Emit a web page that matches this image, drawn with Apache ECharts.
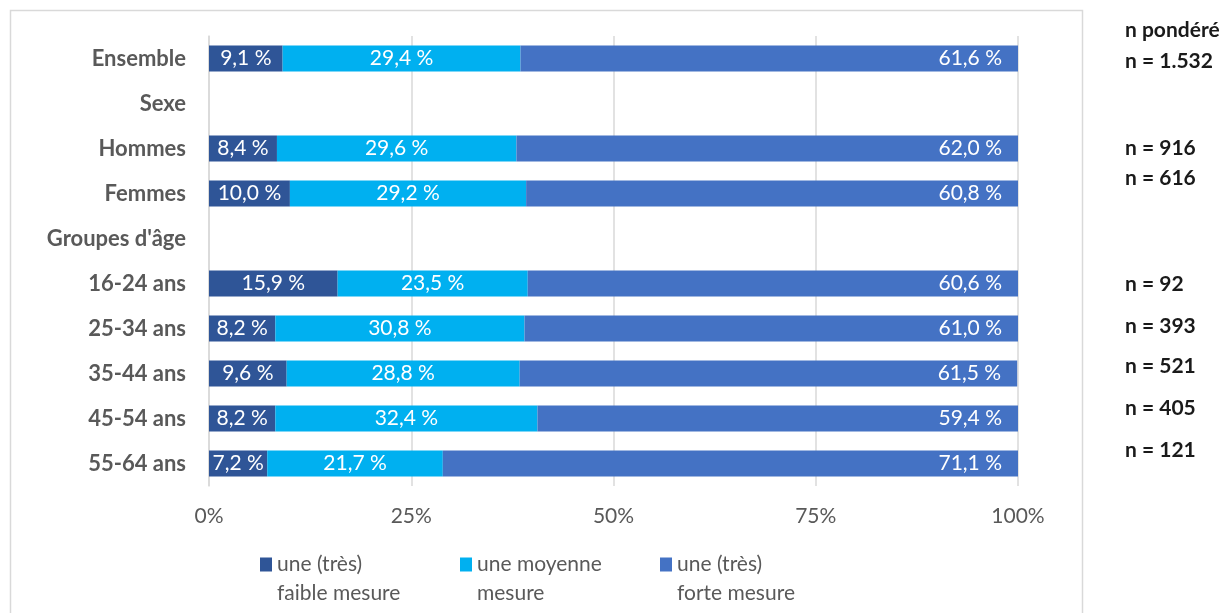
<!DOCTYPE html>
<html>
<head>
<meta charset="utf-8">
<script src="https://cdn.jsdelivr.net/npm/echarts@6/dist/echarts.min.js"></script>
<style>
  html, body { margin: 0; padding: 0; background: #fff; }
  #chart-container { width: 1227px; height: 613px; }
</style>
</head>
<body>
<div id="chart-container"></div>
<script>
var categories = ['Ensemble', 'Sexe', 'Hommes', 'Femmes', "Groupes d'âge",
  '16-24 ans', '25-34 ans', '35-44 ans', '45-54 ans', '55-64 ans'];
var seriesNames = ['une (très)\nfaible mesure', 'une moyenne\nmesure', 'une (très)\nforte mesure'];
var faible = [9.1, null, 8.4, 10.0, null, 15.9, 8.2, 9.6, 8.2, 7.2];
var moyenne = [29.4, null, 29.6, 29.2, null, 23.5, 30.8, 28.8, 32.4, 21.7];
var forte = [61.6, null, 62.0, 60.8, null, 60.6, 61.0, 61.5, 59.4, 71.1];
var nLabels = ['n pondéré', 'n = 1.532', 'n = 916', 'n = 616', 'n = 92', 'n = 393', 'n = 521', 'n = 405', 'n = 121'];
// vertical centres of the right-hand annotations (layout only)
var nYs = [30, 61, 148, 178, 284, 326, 366, 408, 450];

var dom = document.getElementById('chart-container');
var myChart = echarts.init(dom, null, { renderer: 'canvas' });
var FONT = 'Lato';
var GREY = '#595959';

function pct(p) {
  return p.value.toFixed(1).replace('.', ',') + ' %';
}

function barSeries(name, data, color, pos) {
  return {
    name: name,
    type: 'bar',
    stack: 'total',
    data: data,
    barWidth: 26,
    itemStyle: { color: color },
    label: {
      show: true,
      position: pos,
      distance: 16,
      color: '#fff',
      fontFamily: FONT,
      fontSize: 21,
      formatter: pct
    }
  };
}

var graphics = [{
  type: 'rect',
  left: 8, top: 8,
  shape: { width: 1072, height: 640 },
  style: { fill: null, stroke: '#d9d9d9', lineWidth: 1.5 },
  silent: true
}];
nLabels.forEach(function (t, i) {
  graphics.push({
    type: 'text',
    x: 1125, y: nYs[i],
    style: { text: t, fill: '#1a1a1a', font: 'bold 21px ' + FONT, verticalAlign: 'middle' }
  });
});

var option = {
  animation: false,
  grid: { left: 209, right: 209, top: 36, height: 450, containLabel: false },
  xAxis: {
    type: 'value',
    min: 0, max: 100, interval: 25,
    axisLabel: {
      color: GREY, fontFamily: FONT, fontSize: 21, margin: 20,
      formatter: '{value}%'
    },
    splitLine: { lineStyle: { color: '#d9d9d9', width: 1.5 } },
    axisLine: { show: false },
    axisTick: { show: false }
  },
  yAxis: {
    type: 'category',
    inverse: true,
    data: categories,
    axisLine: { show: true, lineStyle: { color: '#d9d9d9', width: 1.5 } },
    axisTick: { show: false },
    axisLabel: {
      color: GREY, fontFamily: FONT, fontSize: 22, fontWeight: 'bold', margin: 23
    }
  },
  legend: {
    left: 260, top: 521,
    padding: 0,
    itemWidth: 12, itemHeight: 14,
    itemGap: 13,
    icon: 'rect',
    formatter: function (name) { return '\n' + name; },
    textStyle: {
      color: GREY, fontFamily: FONT, fontSize: 21,
      lineHeight: 29, width: 170
    },
    data: seriesNames
  },
  graphic: graphics,
  series: [
    barSeries(seriesNames[0], faible, '#2F5597', 'inside'),
    barSeries(seriesNames[1], moyenne, '#00B0F0', 'inside'),
    barSeries(seriesNames[2], forte, '#4472C4', 'insideRight')
  ]
};
myChart.setOption(option);
window.addEventListener('resize', myChart.resize);
</script>
</body>
</html>
